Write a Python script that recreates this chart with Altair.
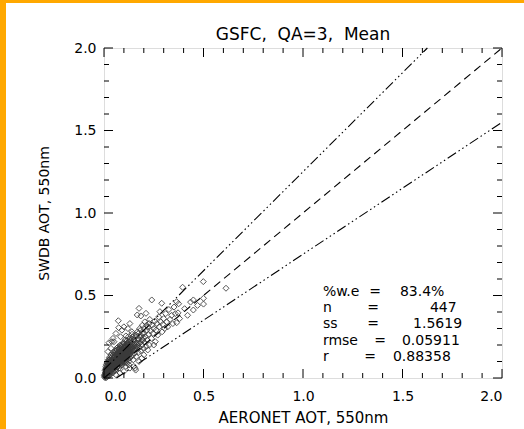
import altair as alt
import pandas as pd

# ---------------- data ----------------
core_pts = [
    (0.005,0.010),(0.006,0.030),(0.008,0.000),(0.008,0.050),(0.010,0.020),(0.010,0.070),(0.012,0.040),(0.012,0.005),
    (0.014,0.060),(0.015,0.025),(0.015,0.090),(0.017,0.045),(0.018,0.010),(0.019,0.075),(0.020,0.035),(0.020,0.055),
    (0.021,0.100),(0.022,0.020),(0.023,0.065),(0.024,0.045),(0.025,0.080),(0.025,0.030),(0.026,0.110),(0.027,0.050),
    (0.028,0.015),(0.029,0.070),(0.030,0.040),(0.030,0.095),(0.031,0.060),(0.032,0.025),(0.033,0.085),(0.034,0.120),
    (0.035,0.050),(0.035,0.070),(0.036,0.035),(0.037,0.100),(0.038,0.060),(0.039,0.080),(0.040,0.045),(0.040,0.130),
    (0.041,0.065),(0.042,0.090),(0.043,0.030),(0.044,0.075),(0.045,0.110),(0.045,0.055),(0.046,0.140),(0.047,0.085),
    (0.048,0.065),(0.049,0.040),(0.050,0.095),(0.050,0.120),(0.051,0.075),(0.052,0.150),(0.053,0.060),(0.054,0.105),
    (0.055,0.085),(0.055,0.045),(0.056,0.130),(0.057,0.070),(0.058,0.095),(0.059,0.160),(0.060,0.080),(0.060,0.115),
    (0.061,0.055),(0.062,0.100),(0.063,0.140),(0.064,0.075),(0.065,0.090),(0.065,0.170),(0.066,0.120),(0.067,0.065),
    (0.068,0.105),(0.069,0.085),(0.070,0.150),(0.070,0.095),(0.071,0.130),(0.072,0.075),(0.073,0.110),(0.074,0.180),
    (0.075,0.090),(0.075,0.140),(0.076,0.060),(0.077,0.120),(0.078,0.100),(0.079,0.160),(0.080,0.085),(0.080,0.130),
    (0.081,0.110),(0.082,0.200),(0.083,0.095),(0.084,0.145),(0.085,0.075),(0.085,0.120),(0.086,0.170),(0.087,0.105),
    (0.088,0.135),(0.089,0.090),(0.090,0.155),(0.090,0.115),(0.091,0.190),(0.092,0.125),(0.093,0.080),(0.094,0.140),
    (0.095,0.105),(0.095,0.170),(0.096,0.130),(0.097,0.215),(0.098,0.115),(0.099,0.150),(0.100,0.095),(0.100,0.135),
    (0.102,0.180),(0.103,0.120),(0.104,0.160),(0.105,0.100),(0.106,0.140),(0.107,0.230),(0.108,0.125),(0.109,0.170),
    (0.110,0.110),(0.110,0.150),(0.112,0.195),(0.113,0.135),(0.114,0.090),(0.115,0.160),(0.116,0.125),(0.117,0.210),
    (0.118,0.145),(0.120,0.115),(0.120,0.175),(0.122,0.135),(0.123,0.250),(0.124,0.155),(0.125,0.100),(0.126,0.190),
    (0.128,0.140),(0.129,0.165),(0.130,0.120),(0.131,0.220),(0.133,0.150),(0.135,0.180),(0.136,0.130),(0.138,0.200),
    (0.140,0.160),(0.141,0.265),(0.143,0.140),(0.145,0.185),(0.147,0.110),(0.148,0.230),(0.150,0.170),(0.152,0.205),
]
core_pts_2 = [
    (0.003,0.005),(0.004,0.020),(0.007,0.015),(0.009,0.035),(0.011,0.055),(0.013,0.025),(0.016,0.040),(0.018,0.065),
    (0.021,0.030),(0.023,0.085),(0.026,0.060),(0.027,0.040),(0.029,0.100),(0.031,0.080),(0.033,0.045),(0.034,0.065),
    (0.036,0.090),(0.037,0.055),(0.039,0.110),(0.041,0.085),(0.042,0.050),(0.044,0.100),(0.046,0.070),(0.047,0.120),
    (0.049,0.090),(0.051,0.060),(0.052,0.110),(0.053,0.080),(0.054,0.135),(0.056,0.100),(0.058,0.070),(0.059,0.120),
    (0.061,0.090),(0.062,0.150),(0.063,0.110),(0.064,0.130),(0.066,0.085),(0.067,0.145),(0.068,0.125),(0.069,0.100),
    (0.071,0.160),(0.072,0.115),(0.073,0.135),(0.074,0.090),(0.076,0.150),(0.077,0.105),(0.078,0.175),(0.079,0.125),
    (0.081,0.140),(0.082,0.100),(0.083,0.165),(0.084,0.120),(0.086,0.150),(0.087,0.185),(0.088,0.110),(0.089,0.130),
    (0.091,0.160),(0.092,0.100),(0.093,0.145),(0.094,0.205),(0.096,0.120),(0.097,0.165),(0.098,0.140),(0.099,0.185),
    (0.101,0.110),(0.102,0.150),(0.104,0.130),(0.105,0.200),(0.106,0.165),(0.108,0.145),(0.109,0.120),(0.111,0.185),
    (0.112,0.155),(0.114,0.225),(0.115,0.140),(0.117,0.170),(0.119,0.130),(0.121,0.200),(0.123,0.160),(0.125,0.235),
    (0.127,0.180),(0.129,0.145),(0.132,0.200),(0.134,0.170),(0.137,0.240),(0.139,0.185),(0.142,0.215),(0.144,0.165),
    (0.146,0.250),(0.149,0.195),(0.151,0.230),(0.153,0.175),
]
core_pts_3 = [
    (0.002,0.015),(0.006,0.045),(0.009,0.060),(0.012,0.080),(0.014,0.030),(0.017,0.095),(0.019,0.050),(0.022,0.110),
    (0.024,0.070),(0.027,0.125),(0.028,0.090),(0.031,0.045),(0.033,0.105),(0.035,0.140),(0.038,0.075),(0.040,0.100),
    (0.043,0.120),(0.044,0.060),(0.046,0.155),(0.048,0.105),(0.050,0.080),(0.052,0.130),(0.054,0.070),(0.056,0.165),
    (0.057,0.110),(0.060,0.140),(0.062,0.085),(0.064,0.180),(0.066,0.150),(0.068,0.070),(0.070,0.120),(0.072,0.190),
    (0.074,0.135),(0.076,0.105),(0.078,0.145),(0.080,0.180),(0.082,0.115),(0.084,0.195),(0.086,0.135),(0.088,0.160),
    (0.090,0.095),(0.092,0.175),(0.094,0.120),(0.096,0.185),(0.098,0.155),(0.100,0.120),(0.103,0.210),(0.106,0.150),
    (0.109,0.190),(0.112,0.125),(0.115,0.205),(0.118,0.165),(0.122,0.220),(0.126,0.150),(0.130,0.195),(0.134,0.230),
]
mid_pts = [
    (0.154,0.150),(0.157,0.245),(0.158,0.210),(0.160,0.190),(0.161,0.260),(0.162,0.130),(0.164,0.215),(0.165,0.190),
    (0.166,0.175),(0.168,0.280),(0.169,0.235),(0.170,0.200),(0.172,0.155),(0.173,0.270),(0.175,0.235),(0.177,0.210),
    (0.178,0.185),(0.180,0.300),(0.181,0.250),(0.182,0.215),(0.184,0.290),(0.186,0.165),(0.188,0.255),(0.189,0.230),
    (0.190,0.200),(0.192,0.270),(0.193,0.320),(0.195,0.230),(0.197,0.245),(0.198,0.180),(0.200,0.270),(0.201,0.300),
    (0.203,0.215),(0.205,0.340),(0.208,0.250),(0.212,0.190),(0.214,0.320),(0.215,0.290),
    (0.218,0.230),(0.220,0.310),(0.224,0.265),(0.227,0.330),(0.228,0.200),(0.230,0.355),
    (0.234,0.285),(0.238,0.240),(0.242,0.320),(0.246,0.270),(0.250,0.300),
    (0.255,0.345),(0.258,0.220),(0.262,0.290),(0.266,0.330),(0.270,0.260),(0.275,0.370),(0.278,0.310),
    (0.285,0.340),(0.292,0.280),(0.296,0.325),(0.300,0.360),(0.305,0.300),(0.310,0.390),(0.315,0.340),
    (0.320,0.310),(0.326,0.415),(0.332,0.355),(0.340,0.380),(0.346,0.330),(0.352,0.430),(0.358,0.390),
    (0.372,0.395),(0.380,0.360),(0.405,0.420),(0.420,0.380),(0.435,0.460),(0.470,0.440),
]
outlier_pts = [
    (0.395,0.550),(0.499,0.584),(0.613,0.544),(0.500,0.483),(0.500,0.448),(0.449,0.473),(0.449,0.412),(0.365,0.462),
    (0.375,0.450),(0.365,0.335),(0.290,0.453),(0.240,0.473),(0.176,0.422),(0.167,0.382),(0.185,0.376),(0.211,0.392),
    (0.281,0.402),(0.039,0.220),(0.072,0.347),(0.074,0.305),(0.025,0.214),(0.050,0.220),(0.083,0.250),(0.110,0.255),
    (0.140,0.280),(0.060,0.270),(0.090,0.290),(0.035,0.180),(0.020,0.160),(0.045,0.240),(0.100,0.310),(0.130,0.330),
    (0.120,0.300),(0.156,0.059),(0.159,0.048),(0.126,0.079),(0.176,0.100),(0.150,0.070),(0.100,0.040),(0.130,0.060),
    (0.080,0.030),(0.060,0.020),(0.110,0.070),(0.200,0.140),(0.220,0.170),(0.250,0.200),(0.190,0.120),
]

line_one_x = [0.0, 2.0]
line_one_y = [0.0, 2.0]
line_up_x = [0.0, 1.625]
line_up_y = [0.05, 2.0]
line_lo_x = [0.0625, 2.0]
line_lo_y = [0.0, 1.55]

major_ticks = [0.0, 0.5, 1.0, 1.5, 2.0]
minor_ticks = [0.1, 0.2, 0.3, 0.4, 0.6, 0.7, 0.8, 0.9, 1.1, 1.2, 1.3, 1.4, 1.6, 1.7, 1.8, 1.9]

title_text = ["GSFC,\u00a0\u00a0QA=3,\u00a0\u00a0Mean"]

stat_names = ["%w.e", "n", "ss", "rmse", "r"]
stat_values = ["83.4%", "447", "1.5619", "0.05911", "0.88358"]
stat_row_y = [0.521, 0.424, 0.327, 0.224, 0.127]
stat_eq_x = [1.362, 1.352, 1.352, 1.387, 1.337]
stat_val_x = [1.487, 1.638, 1.553, 1.497, 1.452]
stat_name_x = 1.10

# ---------------- chart ----------------
W, H = 398, 330
FONT = "DejaVu Sans"
pts = core_pts + core_pts_2 + core_pts_3 + mid_pts + outlier_pts
df_pts = pd.DataFrame(pts, columns=["aeronet", "swdb"])

xs = alt.Scale(domain=[0, 2], nice=False, zero=False)
ys = alt.Scale(domain=[0, 2], nice=False, zero=False)

scatter = alt.Chart(df_pts).mark_point(
    shape="diamond", filled=False, size=36, stroke="#3a3a3a", strokeWidth=1, opacity=0.85
).encode(
    x=alt.X("aeronet:Q", scale=xs, axis=alt.Axis(
        title="AERONET AOT, 550nm", values=major_ticks, format=".1f",
        ticks=False, tickSize=0, domain=False, grid=False,
        labelFont=FONT, labelFontSize=14, labelColor="black", labelPadding=11,
        titleFont=FONT, titleFontSize=15, titleFontWeight="normal", titleColor="black", titlePadding=7)),
    y=alt.Y("swdb:Q", scale=ys, axis=alt.Axis(
        title="SWDB AOT, 550nm", values=major_ticks, format=".1f",
        ticks=False, tickSize=0, domain=False, grid=False,
        labelFont=FONT, labelFontSize=14, labelColor="black", labelPadding=8,
        titleFont=FONT, titleFontSize=14, titleFontWeight="normal", titleColor="black", titlePadding=22)),
)

def seg(xv, yv, dash):
    d = pd.DataFrame({"x": xv, "y": yv})
    return alt.Chart(d).mark_line(color="black", strokeWidth=1.1, strokeDash=dash).encode(
        x=alt.X("x:Q", scale=xs), y=alt.Y("y:Q", scale=ys))

one = seg(line_one_x, line_one_y, [8, 5])
up = seg(line_up_x, line_up_y, [10, 3, 1.5, 3, 1.5, 3, 1.5, 3])
lo = seg(line_lo_x, line_lo_y, [10, 3, 1.5, 3, 1.5, 3, 1.5, 3])

def ticks_layer(vals, length):
    d = pd.DataFrame({"v": vals})
    base = alt.Chart(d).mark_rule(color="black", strokeWidth=1)
    bottom = base.encode(x=alt.X("v:Q", scale=xs), y=alt.value(H), y2=alt.value(H - length))
    top = base.encode(x=alt.X("v:Q", scale=xs), y=alt.value(0), y2=alt.value(length))
    left = base.encode(y=alt.Y("v:Q", scale=ys), x=alt.value(0), x2=alt.value(length))
    right = base.encode(y=alt.Y("v:Q", scale=ys), x=alt.value(W), x2=alt.value(W - length))
    return [bottom, top, left, right]

df_stats = pd.DataFrame({
    "name": stat_names, "eq": ["="] * 5, "val": stat_values,
    "ry": stat_row_y, "ex": stat_eq_x, "vx": stat_val_x, "nx": [stat_name_x] * 5,
})
txt_common = dict(font=FONT, fontSize=14, color="black", baseline="middle")
t_name = alt.Chart(df_stats).mark_text(align="left", **txt_common).encode(
    x=alt.X("nx:Q", scale=xs), y=alt.Y("ry:Q", scale=ys), text="name:N")
t_eq = alt.Chart(df_stats).mark_text(align="center", **txt_common).encode(
    x=alt.X("ex:Q", scale=xs), y=alt.Y("ry:Q", scale=ys), text="eq:N")
t_val = alt.Chart(df_stats).mark_text(align="left", **txt_common).encode(
    x=alt.X("vx:Q", scale=xs), y=alt.Y("ry:Q", scale=ys), text="val:N")

# title drawn as a text mark above the frame
t_title = alt.Chart(pd.DataFrame({"t": title_text})).mark_text(
    font=FONT, fontSize=17, color="black", align="center", baseline="alphabetic", clip=False
).encode(x=alt.value(W / 2), y=alt.value(-8), text="t:N")

# orange page border (top and left strips)
border_top = alt.Chart(pd.DataFrame({"k": [0]})).mark_rect(color="#FFA800", clip=False).encode(
    x=alt.value(-104), x2=alt.value(W + 22), y=alt.value(-48), y2=alt.value(-45))
border_left = alt.Chart(pd.DataFrame({"k": [0]})).mark_rect(color="#FFA800", clip=False).encode(
    x=alt.value(-104), x2=alt.value(-98), y=alt.value(-48), y2=alt.value(H + 51))

chart = alt.layer(
    scatter, one, up, lo,
    *ticks_layer(major_ticks, 9), *ticks_layer(minor_ticks, 5),
    t_name, t_eq, t_val, t_title, border_top, border_left,
).properties(
    width=W, height=H,
    padding={"left": 104, "top": 48, "right": 22, "bottom": 51},
    autosize=alt.AutoSizeParams(type="none"),
).configure_view(
    stroke="black", strokeWidth=1.2
).configure(background="white")

chart.save("out.html", embed_options={"renderer": "svg", "actions": False})
